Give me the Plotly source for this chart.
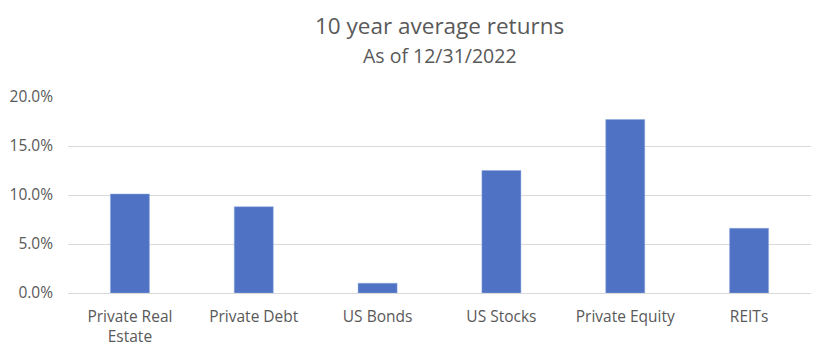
import plotly.graph_objects as go

categories = ["Private Real<br>Estate", "Private Debt", "US Bonds", "US Stocks", "Private Equity", "REITs"]
returns = [0.101, 0.088, 0.010, 0.125, 0.177, 0.066]
tick_vals = [0, 0.05, 0.10, 0.15, 0.20]
tick_text = ["0.0%", "5.0%", "10.0%", "15.0%", "20.0%"]

FONT = "Open Sans"
GREY = "#595959"

fig = go.Figure(go.Bar(
    x=categories, y=returns,
    marker=dict(color="#4F72C4", line=dict(color="#8fa8dc", width=0.5)),
    hoverinfo="skip",
))

fig.update_layout(
    width=826, height=353,
    margin=dict(l=68, r=15, t=97, b=60),
    paper_bgcolor="white", plot_bgcolor="white",
    bargap=0.685,
    showlegend=False,
    font=dict(family=FONT, color=GREY, size=15.5),
    annotations=[
        dict(text="10 year average returns", xref="paper", yref="paper", x=0.5, y=1,
             xanchor="center", yanchor="middle", yshift=97 - 25, showarrow=False,
             font=dict(family=FONT, size=22.5, color=GREY)),
        dict(text="As of 12/31/2022", xref="paper", yref="paper", x=0.5, y=1,
             xanchor="center", yanchor="middle", yshift=97 - 55, showarrow=False,
             font=dict(family=FONT, size=19.5, color=GREY)),
    ],
)
fig.update_xaxes(showgrid=False, showline=True, linecolor="#d9d9d9", linewidth=1,
                 ticks="", tickfont=dict(size=15.5, color=GREY), ticklabelstandoff=9,
                 automargin=False)
fig.update_yaxes(range=[0, 0.2], tickvals=tick_vals, ticktext=tick_text,
                 showgrid=True, gridcolor="#d9d9d9", gridwidth=1, zeroline=False,
                 showline=False, ticks="", tickfont=dict(size=15.5, color=GREY),
                 ticklabelstandoff=14, automargin=False)

fig.write_html("out.html")
